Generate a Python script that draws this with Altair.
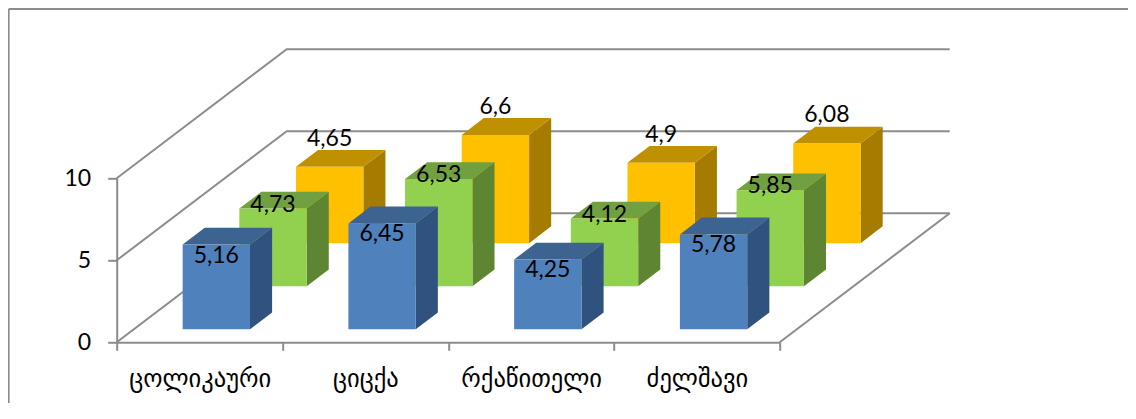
import altair as alt
import pandas as pd

categories = ["ცოლიკაური", "ციცქა", "რქაწითელი", "ძელშავი"]
blue_values = [5.16, 6.45, 4.25, 5.78]
green_values = [4.73, 6.53, 4.12, 5.85]
yellow_values = [4.65, 6.6, 4.9, 6.08]
y_ticks = [0, 5, 10]

# projection of the chart's depth axis, in x-category and y-value units
DX, DY = 1.0256, 7.87
GAP = 0.2936          # gap left of a bar inside its category
BW = 0.4064           # bar width
DEPTH_M = 0.3333 * 0.305   # margin inside a series slot (fraction of depth)
DEPTH_B = 0.3333 * 0.39    # bar depth (fraction of depth)

GREY = "#8c8c8c"
XS = alt.Scale(domain=[0, 4], nice=False, zero=False)
YS = alt.Scale(domain=[0, 10], nice=False, zero=False)
label_expr = "[" + ",".join(f"'{c}'" for c in categories) + ",''][datum.value]"
X_AXIS = alt.Axis(
    title=None, values=[0, 1, 2, 3, 4], labelExpr=label_expr, labelOffset=83, labelPadding=17,
    labelFont="DejaVu Sans", labelFontSize=24.5, labelColor="#000000", labelOverlap=False,
    labelFlush=False, labelBound=False, tickSize=8, tickColor=GREY, tickWidth=2,
    domainColor=GREY, domainWidth=2, grid=False)
Y_AXIS = alt.Axis(
    title=None, values=y_ticks, labelFont="Lato", labelFontSize=23, labelColor="#000000",
    labelPadding=17, tickSize=9, tickColor=GREY, tickWidth=2,
    domainColor=GREY, domainWidth=2, grid=False, format="d")
X = lambda f: alt.X(f, type="quantitative", scale=XS, axis=X_AXIS)
Y = lambda f: alt.Y(f, type="quantitative", scale=YS, axis=Y_AXIS)


def bars(values, slot):
    d0 = slot / 3 + DEPTH_M
    rows = []
    for i, v in enumerate(values):
        x0 = i + GAP + d0 * DX
        y0 = d0 * DY
        rows.append(dict(idx=i, value=v, label=str(v).replace(".", ","),
                         x0=x0, x1=x0 + BW, xm=x0 + BW / 2, y0=y0, ytop=y0 + v))
    return rows


def faces(rows):
    side, top = [], []
    for r in rows:
        for t in (0, 1):
            ox, oy = t * DEPTH_B * DX, t * DEPTH_B * DY
            side.append(dict(idx=r["idx"], x=r["x1"] + ox, y=r["ytop"] + oy, y2=r["y0"] + oy))
            top.append(dict(idx=r["idx"], x=r["x0"] + ox, x2=r["x1"] + ox, y=r["ytop"] + oy))
    return pd.DataFrame(side), pd.DataFrame(top)


# frame and walls ----------------------------------------------------------
frame_top = pd.DataFrame({"x": [-0.652, 6.16], "y": [20.33, 20.33], "o": [0, 1]})
frame_left = pd.DataFrame({"x": [-0.652, -0.652], "y": [20.33, -4.7], "o": [0, 1]})

walls = []
for v in y_ticks:
    walls += [dict(g=v, o=0, x=0, y=v), dict(g=v, o=1, x=DX, y=v + DY),
              dict(g=v, o=2, x=4 + DX, y=v + DY)]
walls += [dict(g=99, o=0, x=4, y=0), dict(g=99, o=1, x=4 + DX, y=DY)]
walls = pd.DataFrame(walls)

layers = []
for fr in (frame_top, frame_left):
    layers.append(alt.Chart(fr).mark_line(color=GREY, strokeWidth=2, clip=False).encode(
        x=X("x"), y=Y("y"), order="o:Q"))
layers.append(alt.Chart(walls).mark_line(color=GREY, strokeWidth=2, clip=False).encode(
    x=X("x"), y=Y("y"), detail="g:N", order="o:Q"))

# bars, back to front -------------------------------------------------------
series = [
    (yellow_values, 2, "#FFC000", "#A67C00", "#BF9000", -28),
    (green_values, 1, "#92D050", "#5E8532", "#70A040", -4),
    (blue_values, 0, "#4F81BD", "#30527E", "#3D6390", 11),
]
texts = []
for values, slot, front, dark, mid, dy in series:
    rows = bars(values, slot)
    df = pd.DataFrame(rows)
    side, top = faces(rows)
    layers.append(alt.Chart(side).mark_area(color=dark, clip=False).encode(
        x=X("x"), y=Y("y"), y2="y2:Q", detail="idx:N"))
    layers.append(alt.Chart(top).mark_area(color=mid, orient="horizontal", clip=False).encode(
        y=Y("y"), x=X("x"), x2="x2:Q", detail="idx:N"))
    layers.append(alt.Chart(df).mark_rect(color=front, clip=False).encode(
        x=X("x0"), x2="x1:Q", y=Y("y0"), y2="ytop:Q"))
    texts.append(alt.Chart(df).mark_text(font="Lato", fontSize=23, color="#000000",
                                         dy=dy, clip=False).encode(
        x=X("xm"), y=Y("ytop"), text="label:N"))

chart = alt.layer(*layers, *texts).properties(
    width=663, height=164,
    padding={"left": 108.7, "top": 170.3, "right": 348.3, "bottom": 60.7},
    autosize=alt.AutoSizeParams(type="none"),
    background="#ffffff",
).configure_view(stroke=None)

chart.save("out.html", embed_options={"renderer": "svg", "actions": False})
